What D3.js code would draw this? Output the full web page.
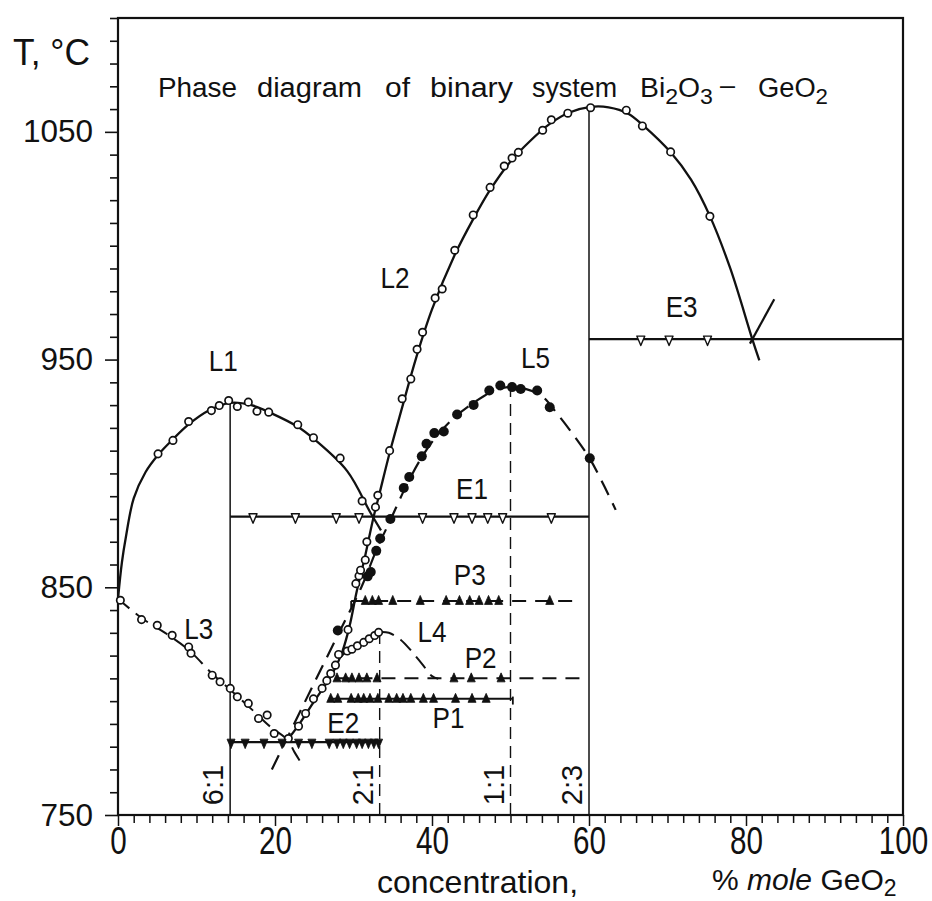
<!DOCTYPE html>
<html>
<head>
<meta charset="utf-8">
<script src="https://cdn.jsdelivr.net/npm/d3@7"></script>
<style>
  body { margin: 0; background: #fff; }
  svg { display: block; }
  text { font-family: "Liberation Sans", Arial, sans-serif; fill: #111; }
</style>
</head>
<body>
<svg id="chart" width="932" height="901"></svg>
<script>
// ---- Measured points: [mol % GeO2, T °C] ----
const L1_pts = [[5.1,908.6],[7.0,914.5],[9.0,922.8],[11.9,927.6],[12.9,929.8],[14.1,932.0],[15.2,929.4],
  [16.6,931.3],[17.7,927.3],[19.2,926.9],[22.9,921.4],[24.9,915.7],[28.3,906.7],[31.1,887.9]];
const L2_pts = [[23.0,789.0],[23.9,794.6],[24.9,801.0],[26.0,805.6],[26.6,809.0],[27.1,812.1],[27.7,815.8],
  [28.1,820.5],[29.3,831.4],[30.3,851.6],[30.7,855.0],[30.9,857.5],[31.5,862.0],[31.7,870.0],[32.8,885.2],
  [33.1,890.4],[34.6,910.0],[36.2,932.8],[37.3,941.5],[38.1,954.5],[38.8,962.0],[40.4,977.0],[41.3,981.0],
  [42.9,998.0],[45.25,1013.5],[47.4,1025.6],[49.2,1035.0],[50.2,1038.5],[51.0,1041.0],[54.1,1050.7],
  [55.2,1055.3],[57.3,1058.2],[60.2,1060.6],[64.75,1059.5],[66.8,1052.6],[70.4,1041.2],[75.4,1012.9]];
const L3_pts = [[0.3,844.3],[3.0,835.8],[5.0,833.3],[6.9,828.9],[9.0,823.8],[9.3,821.0],[12.0,811.4],
  [13.0,808.5],[14.3,805.6],[15.2,801.9],[16.6,799.0],[17.9,792.4],[19.0,793.9],[19.9,785.8],[21.7,783.6]];
const L4_pts = [[29.2,822.0],[29.8,822.8],[30.5,824.3],[31.3,825.8],[32.0,827.4],[32.7,828.8],[33.2,830.2]];
const L5_pts = [[28.0,831.0],[31.8,854.8],[32.2,856.7],[32.9,866.0],[33.4,871.4],[34.7,880.0],[36.4,893.6],
  [37.1,898.4],[38.7,907.5],[39.3,913.0],[40.3,917.7],[41.5,918.4],[43.2,925.9],[45.3,930.1],[47.3,936.4],
  [48.7,938.6],[50.2,937.9],[51.3,937.1],[53.4,936.4],[55.0,929.1],[60.1,906.7]];

// ---- Liquidus curves (knots along each drawn curve) ----
const L1_curve = [[0,845],[0.5,861],[1,872],[2,889],[3.5,900.5],[5.2,908.5],[7,915],[9,921.5],[11.5,927.5],
  [14.3,931],[17,930],[19.5,926.5],[22.9,920.5],[25,915],[29.2,901],[32.2,882.5],[33.5,875]];
const L2_curve = [[21.7,783.5],[23,789.5],[25,800],[27.3,812],[28.6,822],[29.5,833],[30.4,848],[31.5,864],
  [32.5,880],[33.3,891],[34.6,909],[36.2,929],[38,951],[40,972],[42.9,996],[45.3,1012],[47.4,1024.5],
  [50,1037],[52.5,1046],[55,1053.5],[57.5,1058.5],[60.2,1061],[62.5,1060.8],[65,1058],[67,1052.5],
  [70.4,1041],[73,1029],[75.4,1013],[78,990],[80.8,959],[81.7,949.6]];
const L3_curve = [[0,845],[3,836.5],[6,830],[9,822.5],[12,812],[14.3,805],[17,796.5],[19.5,788.5],
  [21.6,783],[22.5,777.5],[23.4,772.5]];
const L4_solid = [[28.4,819.5],[29.2,822],[30,823.5],[31,825],[32,827.2],[33.3,830.3]];
const L4_dashed = [[33.3,830.3],[34.5,830],[36,827],[37.5,821.5],[38.8,816],[40,811],[40.8,809.8]];
const L5_curve = [[19.6,770],[24,801],[28,829],[31,850],[33,867],[34.7,879.5],[36.5,893],[38.5,906],
  [40.5,916],[43,925],[45.5,931.5],[48,936.5],[50,938],[52,937],[54,934],[56,926],[58,917],
  [60.1,906.5],[62,894],[63.4,884]];
const GeO2_liquidus = [[80.5,957],[83.6,976.5]];

// ---- Invariant horizontals: temperature, start, end ----
const E1_T = 881, E1_range = [14.29, 60];
const E2_T = 782, E2_range = [14.29, 33.33];
const E3_T = 959, E3_range = [60, 100];
const P1_T = 801, P1_range = [26.9, 50.3];
const P2_T = 810, P2_range = [27.7, 59.5];
const P3_T = 844, P3_range = [29.7, 58.7];

// Thermal-effect markers on the invariants (x positions)
const E1_x = [17.2,22.6,27.8,30.7,38.8,42.8,45.1,47.1,49.0,55.2];
const E3_x = [66.6,70.2,75.1];
const E2_x = [14.4,16.2,18.6,20.9,23.0,24.7,26.9,27.9,28.7,29.5,30.4,31.1,31.9,32.6,33.2];
const P1_x = [27.1,28.0,29.7,30.6,31.3,32.1,33.1,34.5,35.5,36.3,37.3,38.9,40.2,43.0,45.1,46.9];
const P2_x = [27.9,29.0,29.8,30.7,31.7,33.0,42.8,45.0,48.8];
const P3_x = [31.5,32.4,33.2,35.0,38.5,41.8,43.5,44.8,46.0,47.2,48.5,55.0];

// Compounds (composition lines): label, x, top T, style
const compounds = [
  {label: "6:1", x: 100/7, top: 931.5, dashed: false},
  {label: "2:1", x: 100/3, top: 830.3, dashed: true},
  {label: "1:1", x: 50, top: 938, dashed: true},
  {label: "2:3", x: 60, top: 1061, dashed: false}
];

// Axis ticks
const xTicks = d3.range(0, 101, 2);
const xMajor = [0, 20, 40, 60, 80, 100];
const yTicks = d3.range(750, 1101, 10);
const yMajor = [750, 850, 950, 1050];

// Curve / point names and label positions (mol %, °C)
const curveLabels = [
  {t: "L1", x: 13.4, T: 949.5}, {t: "L2", x: 35.3, T: 986},
  {t: "L3", x: 10.3, T: 831.5}, {t: "L4", x: 40.0, T: 830.2},
  {t: "L5", x: 53.2, T: 950.5}, {t: "E1", x: 45.1, T: 893}, {t: "E2", x: 28.7, T: 790.5},
  {t: "E3", x: 71.8, T: 973}, {t: "P1", x: 42.1, T: 792.5}, {t: "P2", x: 46.2, T: 819},
  {t: "P3", x: 44.8, T: 855.5}
];

// ---- Scales ----
const x = d3.scaleLinear().domain([0, 100]).range([118, 903]);
const y = d3.scaleLinear().domain([750, 1100]).range([815, 18]);

const svg = d3.select("#chart");
const ink = "#111";
const FONT = '"Liberation Sans", Arial, sans-serif';

// ---- Axes ----
const yAxis = d3.axisLeft(y).tickValues(yTicks).tickSize(8).tickPadding(17)
  .tickFormat(d => yMajor.includes(d) ? d : "");
const gy = svg.append("g").attr("transform", `translate(${x(0)},0)`).call(yAxis);
gy.select(".domain").remove();
gy.selectAll(".tick line").attr("stroke", ink).attr("stroke-width", 1.6)
  .attr("x2", d => yMajor.includes(d) ? -13 : -8);
gy.selectAll(".tick text").attr("font-size", 31.5).attr("fill", ink).style("font-family", FONT);

const xAxis = d3.axisBottom(x).tickValues(xTicks).tickSize(8).tickPadding(4)
  .tickFormat(d => xMajor.includes(d) ? d : "");
const gx = svg.append("g").attr("transform", `translate(0,${y(750)})`).call(xAxis);
gx.select(".domain").remove();
gx.selectAll(".tick line").attr("stroke", ink).attr("stroke-width", 1.5)
  .attr("y2", d => xMajor.includes(d) ? 11 : 8);
// condensed digits: squeeze horizontally about the tick position
gx.selectAll(".tick text").attr("font-size", 38).attr("fill", ink).style("font-family", FONT)
  .attr("transform", "scale(0.78,1)");

// Frame
svg.append("rect")
  .attr("x", x(0)).attr("y", y(1100))
  .attr("width", x(100) - x(0)).attr("height", y(750) - y(1100))
  .attr("fill", "none").attr("stroke", ink).attr("stroke-width", 2.2);

// ---- Composition lines ----
const gComp = svg.append("g");
compounds.forEach(c => {
  gComp.append("line")
    .attr("x1", x(c.x)).attr("x2", x(c.x))
    .attr("y1", y(750)).attr("y2", y(c.top))
    .attr("stroke", ink).attr("stroke-width", c.dashed ? 1.4 : 1.5)
    .attr("stroke-dasharray", c.dashed ? "12,7" : null);
  gComp.append("text")
    .attr("transform", `translate(${x(c.x) - 17},${y(750) - 30}) rotate(-90)`)
    .attr("text-anchor", "middle").attr("dominant-baseline", "central")
    .attr("font-size", 29)
    .text(c.label);
});

// ---- Horizontal invariants ----
function hline(T, range, dash, w) {
  svg.append("line")
    .attr("x1", x(range[0])).attr("x2", x(range[1]))
    .attr("y1", y(T)).attr("y2", y(T))
    .attr("stroke", ink).attr("stroke-width", w || 2)
    .attr("stroke-dasharray", dash || null);
}
hline(E1_T, E1_range, null, 2.2);
hline(E2_T, E2_range, null, 2.2);
hline(E3_T, E3_range, null, 2.2);
hline(P1_T, P1_range, null, 2);
hline(P2_T, P2_range, "14,9", 2);
hline(P3_T, P3_range, "14,9", 2);
// short end tick of P1 and start tick of P3
svg.append("line").attr("x1", x(P1_range[1])).attr("x2", x(P1_range[1]))
  .attr("y1", y(P1_T + 1)).attr("y2", y(P1_T - 2.5)).attr("stroke", ink).attr("stroke-width", 1.8);
svg.append("line").attr("x1", x(P3_range[0])).attr("x2", x(P3_range[0]))
  .attr("y1", y(P3_T)).attr("y2", y(P3_T - 3)).attr("stroke", ink).attr("stroke-width", 1.8);

// ---- Curves ----
const line = d3.line().x(d => x(d[0])).y(d => y(d[1])).curve(d3.curveCatmullRom.alpha(0.5));
function curve(data, dash, w) {
  svg.append("path").datum(data).attr("d", line)
    .attr("fill", "none").attr("stroke", ink).attr("stroke-width", w || 2.3)
    .attr("stroke-linejoin", "round")
    .attr("stroke-dasharray", dash || null);
}
curve(L1_curve);
curve(L2_curve);
curve(L3_curve, "15,8", 2);
curve(L4_solid, null, 2);
curve(L4_dashed, "15,8", 2);
curve(L5_curve, "16,9", 2.2);
curve(GeO2_liquidus, null, 2.2);

// ---- Markers ----
const openPts = [].concat(L1_pts, L2_pts, L3_pts, L4_pts);
svg.append("g").selectAll("circle.open").data(openPts).join("circle")
  .attr("cx", d => x(d[0])).attr("cy", d => y(d[1])).attr("r", 3.7)
  .attr("fill", "#fff").attr("stroke", ink).attr("stroke-width", 1.7);
svg.append("g").selectAll("circle.fill").data(L5_pts).join("circle")
  .attr("cx", d => x(d[0])).attr("cy", d => y(d[1])).attr("r", 5)
  .attr("fill", ink);

const upTri = "M0,-5.5L4,3.5L-4,3.5Z";
const downTri = "M-4,-3L4,-3L0,6.5Z";
function tri(xs, T, shape, filled) {
  svg.append("g").selectAll("path").data(xs).join("path")
    .attr("transform", d => `translate(${x(d)},${y(T)})`)
    .attr("d", shape)
    .attr("fill", filled ? ink : "#fff")
    .attr("stroke", ink).attr("stroke-width", filled ? 0.8 : 1.4)
    .attr("stroke-linejoin", "round");
}
tri(E1_x, E1_T, downTri, false);
tri(E3_x, E3_T, downTri, false);
tri(E2_x, E2_T, downTri, true);
tri(P1_x, P1_T, upTri, true);
tri(P2_x, P2_T, upTri, true);
tri(P3_x, P3_T, upTri, true);

// ---- Curve / point labels ----
svg.append("g").selectAll("text").data(curveLabels).join("text")
  .attr("transform", d => `translate(${x(d.x)},${y(d.T)}) scale(0.9,1)`)
  .attr("text-anchor", "middle").attr("dominant-baseline", "central")
  .attr("font-size", 29)
  .text(d => d.t);

// ---- Title ----
const titleWords = [
  {t: "Phase", x: 158, w: 79}, {t: "diagram", x: 257, w: 105}, {t: "of", x: 385, w: 25},
  {t: "binary", x: 430, w: 83}, {t: "system", x: 532, w: 85}
];
titleWords.forEach(wd => {
  svg.append("text").attr("x", wd.x).attr("y", 97).attr("font-size", 27)
    .attr("textLength", wd.w).attr("lengthAdjust", "spacingAndGlyphs").text(wd.t);
});
function formula(parts, x0, y0, w) {
  const t = svg.append("text").attr("x", x0).attr("y", y0).attr("font-size", 27)
    .attr("textLength", w).attr("lengthAdjust", "spacingAndGlyphs");
  parts.forEach(p => {
    const s = t.append("tspan").text(p.s);
    if (p.sub) s.attr("font-size", 22).attr("dy", 7);
    else if (p.back) s.attr("dy", -7);
  });
  return t;
}
formula([{s: "Bi"}, {s: "2", sub: true}, {s: "O", back: true}, {s: "3", sub: true}], 640, 97, 73);
svg.append("text").attr("x", 720).attr("y", 94).attr("font-size", 27).text("–");
formula([{s: "GeO"}, {s: "2", sub: true}], 758, 97, 70);

// ---- Axis titles ----
svg.append("text").attr("x", 13).attr("y", 65).attr("font-size", 36)
  .attr("textLength", 77).attr("lengthAdjust", "spacingAndGlyphs").text("T, °C");
svg.append("text").attr("x", 377).attr("y", 893).attr("font-size", 32).text("concentration,");
const unit = svg.append("text").attr("x", 712).attr("y", 890).attr("font-size", 30);
unit.append("tspan").text("% ");
unit.append("tspan").attr("font-style", "italic").text("mole ");
unit.append("tspan").text("GeO");
unit.append("tspan").attr("font-size", 23).attr("dy", 6).text("2");
</script>
</body>
</html>
